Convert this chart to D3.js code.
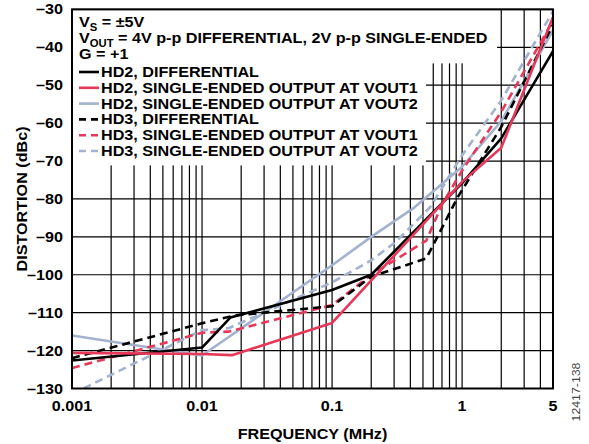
<!DOCTYPE html>
<html>
<head>
<meta charset="utf-8">
<script src="https://cdn.jsdelivr.net/npm/d3@7"></script>
<style>
  html, body { margin: 0; padding: 0; background: #fff; }
  svg { display: block; }
  text { font-family: "Liberation Sans", Arial, Helvetica, sans-serif; font-weight: bold; fill: #000; }
</style>
</head>
<body>
<svg id="chart" width="589" height="444"></svg>
<script>
// ---------- data (frequency in MHz, distortion in dBc) ----------
const hd2Diff  = [[0.001,-122.6],[0.01,-119.2],[0.0165,-111.3],[0.1,-104],[0.2,-100],[1,-75.8],[2,-64],[5,-41]];
const hd2Vout1 = [[0.001,-120.6],[0.01,-120.9],[0.017,-121.2],[0.1,-112.7],[1,-75.5],[2,-66.5],[5,-32]];
const hd2Vout2 = [[0.001,-116],[0.01,-121.3],[0.1,-97.5],[0.2,-90],[0.42,-82.5],[1,-71.5],[2,-59.5],[5,-35.5]];
const hd3Diff  = [[0.001,-122],[0.01,-112.8],[0.018,-110.7],[0.1,-108.3],[0.2,-100.5],[0.53,-95.7],[0.93,-79.4],[2,-61],[5,-34]];
const hd3Vout1 = [[0.001,-124.6],[0.01,-115.3],[0.016,-115],[0.1,-108],[0.2,-100],[0.53,-91],[0.7,-81.5],[1,-72.5],[2,-57],[5,-33]];
const hd3Vout2 = [[0.001,-131.5],[0.01,-114.6],[0.016,-114.1],[0.1,-102],[0.2,-96.2],[0.31,-91.3],[0.57,-82.1],[1,-68.5],[2,-54],[5,-30.5]];

const seriesNames = ["HD2, DIFFERENTIAL","HD2, SINGLE-ENDED OUTPUT AT VOUT1","HD2, SINGLE-ENDED OUTPUT AT VOUT2",
                     "HD3, DIFFERENTIAL","HD3, SINGLE-ENDED OUTPUT AT VOUT1","HD3, SINGLE-ENDED OUTPUT AT VOUT2"];
const seriesData = [hd2Diff, hd2Vout1, hd2Vout2, hd3Diff, hd3Vout1, hd3Vout2];
const seriesColors = ["#000000","#e8385a","#a2b2cf","#000000","#e8385a","#a2b2cf"];
const seriesDashed = [false,false,false,true,true,true];

const xTickValues = [0.001, 0.01, 0.1, 1, 5];
const xTickLabels = ["0.001","0.01","0.1","1","5"];
const yTickValues = [-30,-40,-50,-60,-70,-80,-90,-100,-110,-120,-130];

// ---------- layout ----------
const svg = d3.select("#chart");
const pL = 72, pR = 553, pT = 9.4, pB = 388.5;
const SX = 1.13, FS = 14.3;
const x = d3.scaleLog().domain([0.001, 5]).range([pL, pR]);
const y = d3.scaleLinear().domain([-130, -30]).range([pB, pT]);

function label(g, tx, ty, anchor, extra) {
  return g.append("text")
    .attr("transform", `translate(${tx},${ty})${extra || ""} scale(${SX},1)`)
    .attr("text-anchor", anchor).attr("font-size", FS);
}

// grid
const vGrid = [];
for (let e = -3; e <= 0; e++) for (let k = 1; k <= 9; k++) { const v = k * Math.pow(10, e); if (v <= 5 + 1e-9) vGrid.push(v); }
const grid = svg.append("g");
grid.selectAll("line.v").data(vGrid).enter().append("line")
  .attr("x1", d => x(d)).attr("x2", d => x(d)).attr("y1", pT).attr("y2", pB)
  .attr("stroke", "#000").attr("stroke-width", 1.2);
grid.selectAll("line.h").data(yTickValues).enter().append("line")
  .attr("x1", pL).attr("x2", pR).attr("y1", d => y(d)).attr("y2", d => y(d))
  .attr("stroke", "#000").attr("stroke-width", 1.2);

// white background for annotations / legend
svg.append("rect").attr("x", pL).attr("y", pT).attr("width", 425).attr("height", 54).attr("fill", "#fff");
svg.append("rect").attr("x", pL).attr("y", pT).attr("width", 354).attr("height", 156).attr("fill", "#fff");

// clip
svg.append("clipPath").attr("id", "plotclip").append("rect")
  .attr("x", pL).attr("y", pT).attr("width", pR - pL).attr("height", pB - pT);

const line = d3.line().x(d => x(d[0])).y(d => y(d[1]));
const curves = svg.append("g").attr("clip-path", "url(#plotclip)");
const order = [5, 2, 4, 3, 0, 1];
order.forEach(i => {
  curves.append("path").datum(seriesData[i]).attr("d", line)
    .attr("fill", "none").attr("stroke", seriesColors[i]).attr("stroke-width", 2.6)
    .attr("stroke-linejoin", "round")
    .attr("stroke-dasharray", seriesDashed[i] ? "8,5" : null);
});

// frame
svg.append("rect").attr("x", pL).attr("y", pT).attr("width", pR - pL).attr("height", pB - pT)
  .attr("fill", "none").attr("stroke", "#000").attr("stroke-width", 2);

// y tick labels
const yg = svg.append("g");
yTickValues.forEach(v => label(yg, 63, y(v) + 5, "end").text("\u2013" + Math.abs(v)));

// x tick labels
const xg = svg.append("g");
xTickValues.forEach((v, i) => label(xg, x(v), 411, "middle").text(xTickLabels[i]));

// axis titles
label(svg, (pL + pR) / 2, 439, "middle").text("FREQUENCY (MHz)");
label(svg, 27, (pT + pB) / 2, "middle", " rotate(-90)").text("DISTORTION (dBc)");

// figure id
svg.append("text").attr("transform", "translate(580,392) rotate(-90) scale(1.12,1)").attr("text-anchor", "middle")
  .attr("font-size", 11).style("font-weight", "normal").style("fill", "#444")
  .text("12417-138");

// conditions text
const t1 = label(svg, 79, 27, "start");
t1.append("tspan").text("V");
t1.append("tspan").attr("font-size", 10).attr("dy", 4).text("S");
t1.append("tspan").attr("dy", -4).text(" = \u00b15V");
const t2 = label(svg, 79, 43, "start");
t2.append("tspan").text("V");
t2.append("tspan").attr("font-size", 10).attr("dy", 3.5).text("OUT");
t2.append("tspan").attr("dy", -3.5).text(" = 4V p-p DIFFERENTIAL, 2V p-p SINGLE-ENDED");
label(svg, 79, 58.5, "start").text("G = +1");

// legend
const leg = svg.append("g");
seriesNames.forEach((name, i) => {
  const yy = 77 + i * 15.8;
  leg.append("line").attr("x1", 79).attr("x2", 99).attr("y1", yy - 5).attr("y2", yy - 5)
    .attr("stroke", seriesColors[i]).attr("stroke-width", 2.6)
    .attr("stroke-dasharray", seriesDashed[i] ? "7,5" : null);
  label(leg, 101, yy, "start").text(name);
});
</script>
</body>
</html>
